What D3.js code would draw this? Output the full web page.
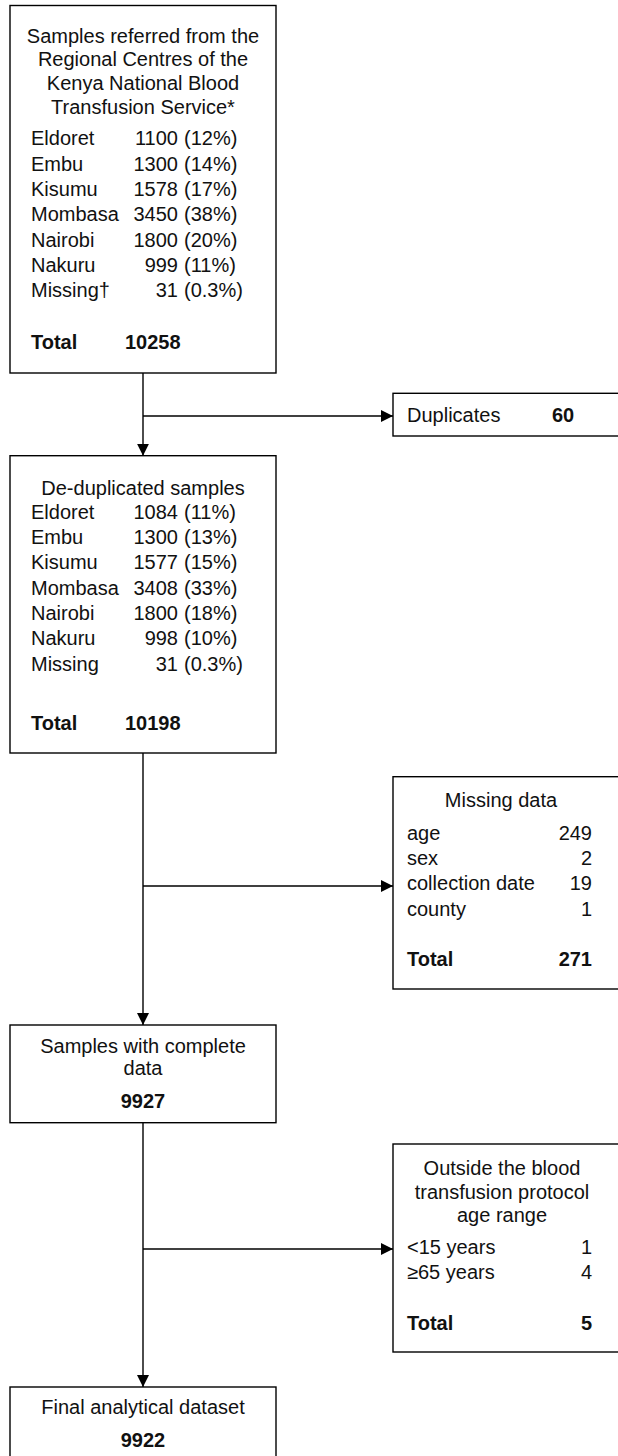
<!DOCTYPE html>
<html>
<head>
<meta charset="utf-8">
<script src="https://cdn.jsdelivr.net/npm/d3@7"></script>
<style>
  body { margin: 0; background: #fff; }
</style>
</head>
<body>
<div id="flow"></div>
<script>
// --- data ---
const centres = ["Eldoret", "Embu", "Kisumu", "Mombasa", "Nairobi", "Nakuru", "Missing†"];
const referredCounts = [1100, 1300, 1578, 3450, 1800, 999, 31];
const referredPct = ["12%", "14%", "17%", "38%", "20%", "11%", "0.3%"];
const referredTotal = 10258;

const dedupCentres = ["Eldoret", "Embu", "Kisumu", "Mombasa", "Nairobi", "Nakuru", "Missing"];
const dedupCounts = [1084, 1300, 1577, 3408, 1800, 998, 31];
const dedupPct = ["11%", "13%", "15%", "33%", "18%", "10%", "0.3%"];
const dedupTotal = 10198;

const duplicates = 60;

const missingFields = ["age", "sex", "collection date", "county"];
const missingCounts = [249, 2, 19, 1];
const missingTotal = 271;

const completeTotal = 9927;

const ageGroups = ["<15 years", "≥65 years"];
const ageCounts = [1, 4];
const ageTotal = 5;

const finalTotal = 9922;

// --- layout ---
const width = 618, height = 1456;
const fs = 20;
const mainX = 143;

const svg = d3.select("#flow")
  .append("svg")
  .attr("width", width)
  .attr("height", height)
  .style("font-family", "'Liberation Sans', Arial, sans-serif")
  .style("font-size", fs + "px");

svg.append("defs").append("marker")
  .attr("id", "arrow")
  .attr("viewBox", "0 0 12 12")
  .attr("refX", 12).attr("refY", 6)
  .attr("markerWidth", 12).attr("markerHeight", 12)
  .attr("markerUnits", "userSpaceOnUse")
  .attr("orient", "auto")
  .append("path")
  .attr("d", "M0,0 L12,6 L0,12 Z")
  .attr("fill", "#000");

const rowStep = d3.scaleLinear().domain([0, 1]).range([0, 25.3]);
const lineStep = d3.scaleLinear().domain([0, 1]).range([0, 23.7]);

function box(x0, y0, x1, y1) {
  svg.append("rect")
    .attr("x", x0).attr("y", y0)
    .attr("width", x1 - x0).attr("height", y1 - y0)
    .attr("fill", "#fff")
    .attr("stroke", "#000")
    .attr("stroke-width", 1.4);
}

function text(x, y, s, anchor, bold) {
  svg.append("text")
    .attr("x", x).attr("y", y)
    .attr("dy", "0.35em")
    .attr("text-anchor", anchor || "start")
    .attr("fill", "#111")
    .style("font-weight", bold ? "bold" : "normal")
    .text(s);
}

function titleLines(cx, y0, lines) {
  lines.forEach((l, i) => text(cx, y0 + lineStep(i), l, "middle"));
}

function link(x0, y0, x1, y1, arrow) {
  svg.append("line")
    .attr("x1", x0).attr("y1", y0)
    .attr("x2", x1).attr("y2", y1)
    .attr("stroke", "#000")
    .attr("stroke-width", 1.4)
    .attr("marker-end", arrow ? "url(#arrow)" : null);
}

// connectors
link(mainX, 373, mainX, 455.7, true);
link(mainX, 416, 393, 416, true);
link(mainX, 753, mainX, 1025, true);
link(mainX, 886, 393, 886, true);
link(mainX, 1122.7, mainX, 1387, true);
link(mainX, 1249, 393, 1249, true);

// box 1: referred samples
box(10, 5.5, 276, 373);
titleLines(mainX, 35.7, ["Samples referred from the", "Regional Centres of the",
  "Kenya National Blood", "Transfusion Service*"]);
centres.forEach((c, i) => {
  const y = 138.3 + rowStep(i);
  text(31, y, c);
  text(178, y, referredCounts[i], "end");
  text(184, y, "(" + referredPct[i] + ")");
});
text(31, 342, "Total", "start", true);
text(125, 342, referredTotal, "start", true);

// duplicates
box(393, 393.3, 640, 436);
text(407, 415, "Duplicates");
text(552, 415, duplicates, "start", true);

// box 2: de-duplicated
box(10, 455.7, 276, 753);
text(mainX, 488, "De-duplicated samples", "middle");
dedupCentres.forEach((c, i) => {
  const y = 511.7 + rowStep(i);
  text(31, y, c);
  text(178, y, dedupCounts[i], "end");
  text(184, y, "(" + dedupPct[i] + ")");
});
text(31, 723, "Total", "start", true);
text(125, 723, dedupTotal, "start", true);

// missing data
box(393, 776.7, 640, 989);
text(501, 800, "Missing data", "middle");
missingFields.forEach((f, i) => {
  const y = 832.7 + rowStep(i);
  text(407, y, f);
  text(592, y, missingCounts[i], "end");
});
text(407, 959, "Total", "start", true);
text(592, 959, missingTotal, "end", true);

// box 3: complete data
box(10, 1025, 276, 1122.7);
text(mainX, 1045.5, "Samples with complete", "middle");
text(mainX, 1068, "data", "middle");
text(mainX, 1100.7, completeTotal, "middle", true);

// outside age range
box(393, 1144, 640, 1352);
titleLines(502, 1168, ["Outside the blood", "transfusion protocol", "age range"]);
ageGroups.forEach((g, i) => {
  const y = 1246.7 + rowStep(i);
  text(407, y, g);
  text(592, y, ageCounts[i], "end");
});
text(407, 1322.7, "Total", "start", true);
text(592, 1322.7, ageTotal, "end", true);

// final dataset
box(10, 1387, 276, 1475);
text(mainX, 1407, "Final analytical dataset", "middle");
text(mainX, 1440, finalTotal, "middle", true);
</script>
</body>
</html>
